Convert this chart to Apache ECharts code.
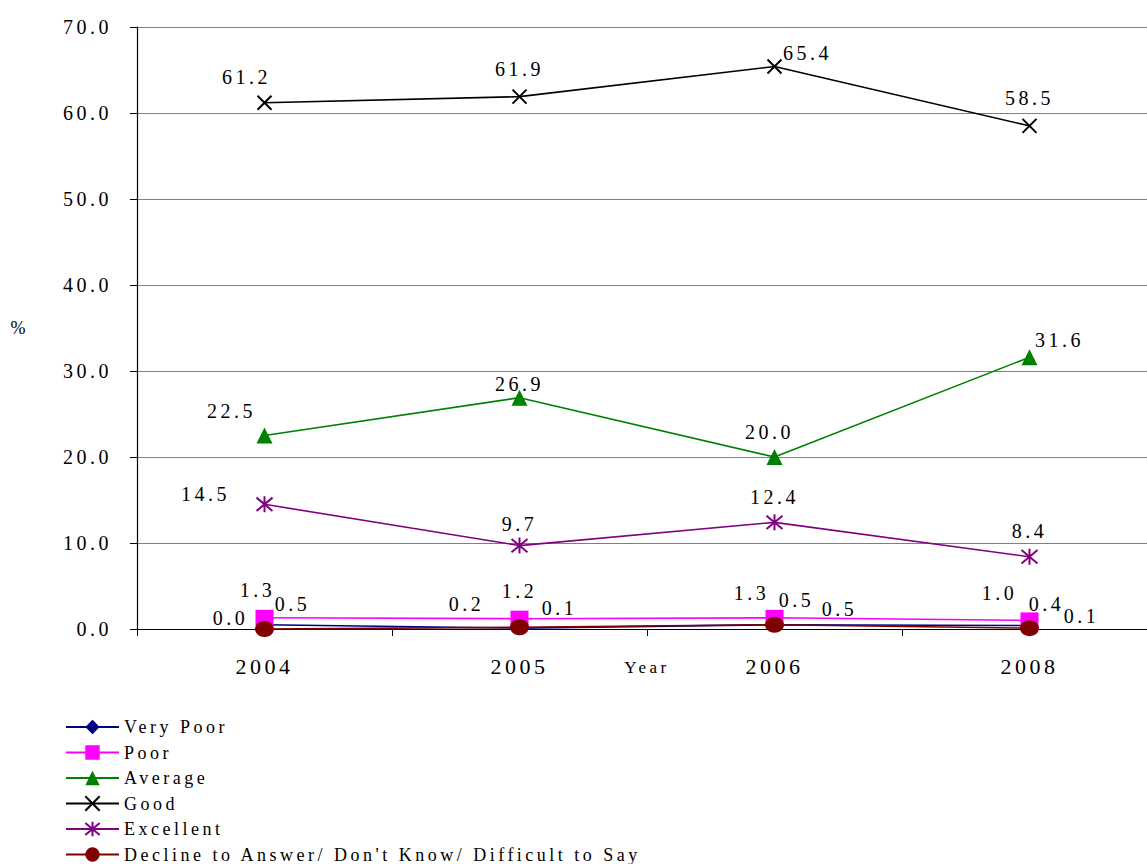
<!DOCTYPE html>
<html><head><meta charset="utf-8">
<script src="https://cdn.jsdelivr.net/npm/echarts@6/dist/echarts.min.js"></script>
<style>
html,body{margin:0;padding:0;background:#fff;}
#c{width:1147px;height:864px;}
#c text{letter-spacing:3.5px;}
</style></head>
<body><div id="c"></div>
<script>
const years = ['2004', '2005', '2006', '2008'];
const veryPoor = [0.5, 0.1, 0.5, 0.4];
const poor = [1.3, 1.2, 1.3, 1.0];
const average = [22.5, 26.9, 20.0, 31.6];
const good = [61.2, 61.9, 65.4, 58.5];
const excellent = [14.5, 9.7, 12.4, 8.4];
const decline = [0.0, 0.2, 0.5, 0.1];
const yTicks = [0, 10, 20, 30, 40, 50, 60, 70];

const FONT = 'Liberation Serif';
// label offsets (style only)
const offs = {
  vp: [[28,-21],[40,-20],[22,-25],[17,-22]],
  p: [[-7,-28],[0,-28],[-23,-25],[-30,-27]],
  a: [[-33,-25],[0,-14],[-5,-25],[30,-17]],
  g: [[-18,-26],[0,-28],[33,-14],[0,-28]],
  e: [[-59,-10],[0,-22],[0,-25],[0,-26]],
  d: [[-34,-11],[-53,-23],[65,-16],[52,-12]]
};
function mk(vals, o){
  return vals.map((v,i)=>({value:v, label:{offset:o[i]}}));
}
const lbl = {show:true, position:'inside', color:'#000', fontFamily:FONT, fontSize:20,
  formatter: p => Number(p.value).toFixed(1)};
function ser(name, vals, o, color, symbol, size, extra){
  return Object.assign({
    name, type:'line', data: mk(vals,o), symbol, symbolSize:size,
    lineStyle:{color, width:1.6}, itemStyle:{color, borderColor:color, borderWidth:0},
    label: lbl, animation:false, emphasis:{disabled:true}
  }, extra||{});
}
const chart = echarts.init(document.getElementById('c'), null, {renderer:'svg'});
chart.setOption({
  animation:false,
  grid:{left:137, top:27, width:1020, bottom:235, containLabel:false, outerBoundsMode:'none'},
  xAxis:{type:'category', data:years, boundaryGap:true,
    name:'Year', nameLocation:'middle', nameGap:30, nameMoveOverlap:false,
    nameTextStyle:{fontFamily:FONT, fontSize:17, color:'#000'},
    axisLine:{lineStyle:{color:'#000', width:1.2}},
    axisTick:{show:true, length:7, lineStyle:{color:'#000'}},
    axisLabel:{fontFamily:FONT, fontSize:22, color:'#000', margin:26},
    splitLine:{show:false}},
  yAxis:{type:'value', min:0, max:70, interval:10,
    name:'%', nameLocation:'middle', nameRotate:0, nameGap:108, nameMoveOverlap:false,
    nameTextStyle:{fontFamily:FONT, fontSize:18, color:'#000'},
    axisLine:{show:true, lineStyle:{color:'#000', width:1.2}},
    axisTick:{show:true, length:7, lineStyle:{color:'#000'}},
    axisLabel:{fontFamily:FONT, fontSize:20, color:'#000', margin:25,
      formatter: v => yTicks.includes(v) ? v.toFixed(1) : ''},
    splitLine:{show:true, lineStyle:{color:'#808080', width:1}}},
  legend:{orient:'vertical', left:65, top:718, padding:0, itemWidth:53, itemHeight:18, itemGap:7.5,
    textStyle:{fontFamily:FONT, fontSize:18, lineHeight:18, color:'#000'}},
  series:[
    ser('Very Poor', veryPoor, offs.vp, '#000080', 'diamond', 14),
    ser('Poor', poor, offs.p, '#ff00ff', 'rect', [18,16]),
    ser('Average', average, offs.a, '#008000', 'triangle', 16),
    ser('Good', good, offs.g, '#000000', 'path://M0,0L10,10M10,0L0,10', 14,
      {itemStyle:{color:'#000', borderColor:'#000', borderWidth:2}}),
    ser('Excellent', excellent, offs.e, '#800080', 'path://M0,0L10,10M10,0L0,10M5,-1L5,11', 16,
      {itemStyle:{color:'#800080', borderColor:'#800080', borderWidth:2}}),
    ser('Decline to Answer/ Don\'t Know/ Difficult to Say', decline, offs.d, '#800000', 'circle', [19,16])
  ]
});
</script></body></html>
